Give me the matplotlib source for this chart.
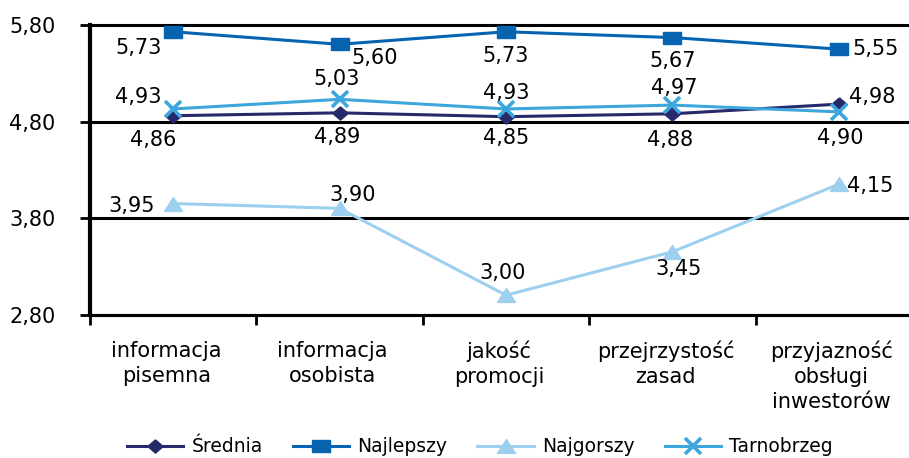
import matplotlib
matplotlib.use("Agg")
import matplotlib.pyplot as plt
from matplotlib.transforms import ScaledTranslation

categories = ["informacja\npisemna", "informacja\nosobista", "jakość\npromocji",
              "przejrzystość\nzasad", "przyjazność\nobsługi\ninwestorów"]
srednia = [4.86, 4.89, 4.85, 4.88, 4.98]
najlepszy = [5.73, 5.60, 5.73, 5.67, 5.55]
najgorszy = [3.95, 3.90, 3.00, 3.45, 4.15]
tarnobrzeg = [4.93, 5.03, 4.93, 4.97, 4.90]
yticks = [2.80, 3.80, 4.80, 5.80]

fmt = lambda v: f"{v:.2f}".replace(".", ",")

DPI = 100
fig = plt.figure(figsize=(9.09, 4.58), dpi=DPI)
ax = fig.add_axes([90 / 909, 0.3133, 832 / 909, 0.6321])

# marker shapes (slightly wide, as in the original sheet)
rect = [(-1.4, -1), (1.4, -1), (1.4, 1), (-1.4, 1), (-1.4, -1)]
diam = [(0, 1), (1.15, 0), (0, -1), (-1.15, 0), (0, 1)]
tri = [(-1.3, -1), (1.3, -1), (0, 1), (-1.3, -1)]

series = [
    ("Średnia", srednia, "#27296B", dict(marker=diam, markersize=11)),
    ("Najlepszy", najlepszy, "#0563AF", dict(marker=rect, markersize=13)),
    ("Najgorszy", najgorszy, "#9DCFEE", dict(marker=tri, markersize=13)),
    ("Tarnobrzeg", tarnobrzeg, "#3DA7DD", dict(marker="x", markersize=12, markeredgewidth=2.6)),
]

# label offsets (pixels, centre of text relative to the marker)
offsets = {
    "Średnia": [(-20, -24), (-2, -24), (0, -21), (-2, -26), (33, 7)],
    "Najlepszy": [(-35, -16), (35, -14), (0, -24), (0, -23), (37, 0)],
    "Najgorszy": [(-42, -2), (13, 13), (-3, 22), (6, -17), (31, -2)],
    "Tarnobrzeg": [(-35, 12), (-3, 20), (0, 16), (2, 17), (1, -26)],
}

x = list(range(len(categories)))
for z, (name, vals, color, mk) in enumerate(series):
    ax.plot(x, vals, color=color, lw=2.2, label=name, zorder=3 + z,
            markerfacecolor=color, markeredgecolor=color, clip_on=False, **mk)
    for xi, v, (dx, dy) in zip(x, vals, offsets[name]):
        ax.annotate(fmt(v), (xi, v), xytext=(dx, dy), textcoords="offset pixels",
                    ha="center", va="center", fontsize=15, color="black",
                    zorder=10)

ax.set_xlim(-0.5, 4.5)
ax.set_ylim(2.80, 5.80)
ax.set_yticks(yticks)
ax.set_yticklabels([fmt(v) for v in yticks], fontsize=15)
ax.tick_params(axis="y", direction="out", length=7, width=2, pad=18)

# boundary ticks between categories, labels at centres
ax.set_xticks([i - 0.5 for i in range(len(categories) + 1)])
ax.set_xticklabels([])
ax.tick_params(axis="x", which="major", direction="out", length=7, width=2)
ax.set_xticks(x, minor=True)
ax.set_xticklabels(categories, minor=True, fontsize=15, linespacing=1.3)
ax.tick_params(axis="x", which="minor", length=0, pad=19)
shift = ScaledTranslation(-7 / DPI, 0, fig.dpi_scale_trans)
for lab in ax.get_xticklabels(minor=True):
    lab.set_transform(lab.get_transform() + shift)

for v in yticks:
    ax.axhline(v, color="black", lw=2.2, zorder=1, clip_on=False)

for s in ["top", "right"]:
    ax.spines[s].set_visible(False)
ax.spines["left"].set_linewidth(3)
ax.spines["bottom"].set_linewidth(2.2)

fig.legend(loc="center", bbox_to_anchor=(0.528, 11 / 458), ncol=4, frameon=False,
           fontsize=13.5, handlelength=3.0, handletextpad=0.45, columnspacing=1.6,
           borderaxespad=0)

fig.savefig("out.png", dpi=DPI)
